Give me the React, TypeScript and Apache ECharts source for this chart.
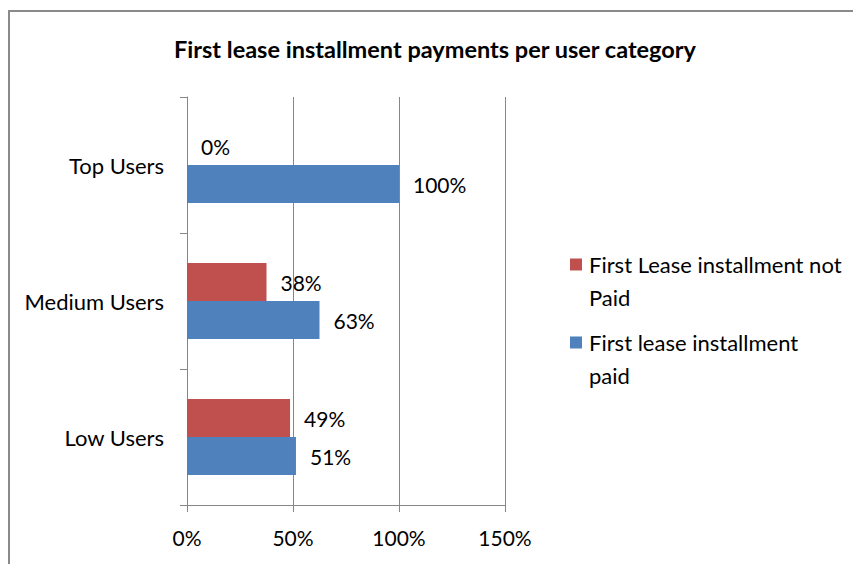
import React, { useEffect, useRef } from "react";
import * as echarts from "echarts";

const categories = ["Low Users", "Medium Users", "Top Users"];
const notPaid = [48.6, 37.5, 0];
const paid = [51.4, 62.5, 100];
const xTicks = { min: 0, max: 150, interval: 50 };
const seriesNames = ["First Lease installment not Paid", "First lease installment paid"];
const legendLabels: Record<string, string> = {
  "First Lease installment not Paid": "\nFirst Lease installment not\nPaid",
  "First lease installment paid": "\nFirst lease installment\npaid",
};
const titleText = "First lease installment payments per user category";

const FONT = "Lato";
const FS = 21;

export default function App() {
  const ref = useRef<HTMLDivElement>(null);
  useEffect(() => {
    document.body.style.margin = "0";
    const chart = echarts.init(ref.current!, null, { renderer: "svg" });
    const axisColor = "#868686";
    const legendCommon = {
      orient: "vertical",
      padding: 0,
      itemWidth: 12,
      itemHeight: 12,
      itemGap: 0,
      icon: "rect",
      formatter: (n: string) => legendLabels[n],
      textStyle: {
        fontFamily: FONT,
        fontSize: 22,
        color: "#000",
        lineHeight: 33,
        padding: [0, 0, 0, 2],
      },
    };
    chart.setOption({
      animation: false,
      textStyle: { fontFamily: FONT },
      title: {
        text: titleText,
        left: 430,
        top: 32,
        textAlign: "center",
        textStyle: { fontFamily: FONT, fontSize: 23.5, fontWeight: "bold", color: "#000" },
      },
      graphic: [
        {
          type: "rect",
          shape: { x: 9, y: 11, width: 900, height: 600 },
          style: { fill: "none", stroke: "#8a8a8a", lineWidth: 2 },
          silent: true,
        },
      ],
      legend: [
        { ...legendCommon, data: [seriesNames[0]], left: 570, top: 215 },
        { ...legendCommon, data: [seriesNames[1]], left: 570, top: 293 },
      ],
      grid: { left: 187, top: 97, width: 318, height: 408, containLabel: false },
      xAxis: {
        type: "value",
        min: xTicks.min,
        max: xTicks.max,
        interval: xTicks.interval,
        axisLine: { show: true, lineStyle: { color: axisColor } },
        axisTick: { show: true, length: 7, lineStyle: { color: axisColor } },
        splitLine: { show: true, lineStyle: { color: axisColor } },
        axisLabel: {
          formatter: "{value}%",
          fontFamily: FONT,
          fontSize: FS,
          color: "#000",
          margin: 22,
        },
      },
      yAxis: {
        type: "category",
        data: categories,
        axisLine: { show: true, lineStyle: { color: axisColor } },
        axisTick: { show: true, length: 7, lineStyle: { color: axisColor } },
        axisLabel: { fontFamily: FONT, fontSize: 22, color: "#000", margin: 23 },
      },
      series: [
        {
          name: seriesNames[0],
          type: "bar",
          data: notPaid,
          barWidth: 38,
          barGap: "0%",
          itemStyle: { color: "#C0504D" },
          label: {
            show: true,
            position: "right",
            distance: 14,
            formatter: (p: any) => Math.round(p.value) + "%",
            fontFamily: FONT,
            fontSize: FS,
            color: "#000",
          },
        },
        {
          name: seriesNames[1],
          type: "bar",
          data: paid,
          barWidth: 38,
          barGap: "0%",
          itemStyle: { color: "#4F81BD" },
          label: {
            show: true,
            position: "right",
            distance: 14,
            formatter: (p: any) => Math.round(p.value) + "%",
            fontFamily: FONT,
            fontSize: FS,
            color: "#000",
          },
        },
      ],
    });
    return () => chart.dispose();
  }, []);
  return <div ref={ref} style={{ width: 853, height: 564 }} />;
}
